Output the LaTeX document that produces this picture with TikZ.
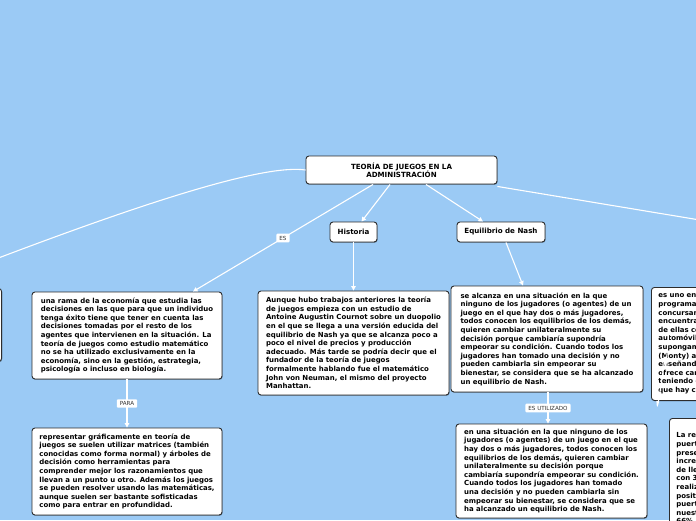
\documentclass[tikz,border=0pt]{standalone}
\usepackage{fontspec}
\setmainfont{DejaVu Sans}
\usetikzlibrary{arrows.meta,shadows}
\definecolor{bg}{RGB}{155,202,245}
\definecolor{bord}{RGB}{45,45,45}
\tikzset{
  box/.style={draw=bord, line width=0.9pt, fill=white, rounded corners=3pt,
    drop shadow={shadow xshift=0.6pt,shadow yshift=-0.9pt,opacity=0.3,fill=black}},
  txt/.style={box, align=left, font=\fontsize{6.95}{8.6}\selectfont\bfseries, inner xsep=6pt, inner ysep=0pt},
  head/.style={box, align=center, font=\fontsize{7.1}{8.4}\selectfont\bfseries, inner sep=2pt},
  lbl/.style={fill=white, rounded corners=1pt, font=\fontsize{5.6}{6.5}\selectfont, inner xsep=3pt, inner ysep=2.2pt, text=black!80},
  conn/.style={draw=white, line width=1.1pt},
  arr/.style={conn, -{Triangle[length=4.5pt,width=4.5pt]}},
}
\begin{document}
\begin{tikzpicture}[x=1pt,y=-1pt]
\useasboundingbox (0,0) rectangle (696,520);
\fill[bg] (0,0) rectangle (696,520);
\begin{scope}
\clip (0,0) rectangle (696,520);

% off-screen targets
\coordinate (offleft) at (-20,265);
\coordinate (offright) at (730,225);

% nodes
\node[head, minimum width=191pt, minimum height=28pt] (title) at (401.5,170) {TEORÍA DE JUEGOS EN LA\\ADMINISTRACIÓN};
\node[head, minimum width=47pt, minimum height=20pt] (historia) at (353.5,232) {Historia};
\node[head, minimum width=88pt, minimum height=20pt] (nash) at (501,232) {Equilibrio de Nash};

\node[txt, minimum width=190pt, minimum height=87pt] (rama) at (127,335.5) {una rama de la economía que estudia las\\
decisiones en las que para que un individuo\\
tenga éxito tiene que tener en cuenta las\\
decisiones tomadas por el resto de los\\
agentes que intervienen en la situación. La\\
teoría de juegos como estudio matemático\\
no se ha utilizado exclusivamente en la\\
economía, sino en la gestión, estrategia,\\
psicología o incluso en biología.};

\node[txt, minimum width=191pt, minimum height=104pt] (histtext) at (353.5,343) {Aunque hubo trabajos anteriores la teoría\\
de juegos empieza con un estudio de\\
Antoine Augustin Cournot sobre un duopolio\\
en el que se llega a una versión educida del\\
equilibrio de Nash ya que se alcanza poco a\\
poco el nivel de precios y producción\\
adecuado. Más tarde se podría decir que el\\
fundador de la teoría de juegos\\
formalmente hablando fue el matemático\\
John von Neuman, el mismo del proyecto\\
Manhattan.};

\node[txt, minimum width=192pt, minimum height=106pt] (nashtext) at (547,339) {se alcanza en una situación en la que\\
ninguno de los jugadores (o agentes) de un\\
juego en el que hay dos o más jugadores,\\
todos conocen los equilibrios de los demás,\\
quieren cambiar unilateralmente su\\
decisión porque cambiaría supondría\\
empeorar su condición. Cuando todos los\\
jugadores han tomado una decisión y no\\
pueden cambiarla sin empeorar su\\
bienestar, se considera que se ha alcanzado\\
un equilibrio de Nash.};

\node[txt, minimum width=190pt, minimum height=87pt] (repr) at (127,471.5) {representar gráficamente en teoría de\\
juegos se suelen utilizar matrices (también\\
conocidas como forma normal) y árboles de\\
decisión como herramientas para\\
comprender mejor los razonamientos que\\
llevan a un punto u otro. Además los juegos\\
se pueden resolver usando las matemáticas,\\
aunque suelen ser bastante sofisticadas\\
como para entrar en profundidad.};

\node[txt, minimum width=191pt, minimum height=94pt] (nashdos) at (551.5,471) {en una situación en la que ninguno de los\\
jugadores (o agentes) de un juego en el que\\
hay dos o más jugadores, todos conocen los\\
equilibrios de los demás, quieren cambiar\\
unilateralmente su decisión porque\\
cambiaría supondría empeorar su condición.\\
Cuando todos los jugadores han tomado\\
una decisión y no pueden cambiarla sin\\
empeorar su bienestar, se considera que se\\
ha alcanzado un equilibrio de Nash.};

\node[txt, anchor=north west, minimum width=190pt, minimum height=113pt, text width=176pt, inner xsep=7pt, inner ysep=6pt] (monty) at (651,287) {es uno en un concurso\\
programa de televisión\\
concursante\\
encuentra tres puertas\\
de ellas con un\\
automóvil detrás\\
supongamos que\\
(Monty) abre otra\\
enseñando una cabra\\
ofrece cambiar\\
teniendo en cuenta\\
que hay cabra detrás};

\node[txt, anchor=north west, minimum width=190pt, minimum height=130pt, text width=176pt, inner xsep=7pt, inner ysep=6pt] (resp) at (669,418) {La respuesta\\
puerta\\
presentador\\
incrementa\\
de llevarse\\
con 3\\
realizar\\
positivo\\
puerta\\
nuestra\\
66\%\\
y no};

\node[box, anchor=north east, minimum width=60pt, minimum height=73pt] (leftbox) at (2,288) {};

% connectors
\draw[conn] (title.west) .. controls (265,164) and (150,200) .. (offleft);
\draw[conn] ([yshift=-2pt]title.south east) -- (offright);
\draw[arr] ([xshift=-28.5pt]title.south) -- node[lbl, pos=0.5] (es) {ES} ([xshift=66pt]rama.north);
\draw[arr] ([xshift=-11.5pt]title.south) -- ([xshift=8pt]historia.north);
\draw[arr] ([xshift=24.5pt]title.south) -- ([xshift=-18pt]nash.north);
\draw[arr] (historia.south) -- (histtext.north);
\draw[arr] ([xshift=5pt]nash.south) -- ([xshift=-24pt]nashtext.north);
\draw[arr] (rama.south) -- node[lbl, pos=0.5] (para) {PARA} (repr.north);
\draw[arr] ([xshift=1pt]nashtext.south) -- node[lbl, pos=0.5] (esutil) {ES UTILIZADO} ([xshift=-3.5pt]nashdos.north);
\draw[conn] ([xshift=6pt]monty.south west) .. controls +(0,25) and +(0,-30) .. ([xshift=-3pt,yshift=52pt]resp.north west) -- ([yshift=88pt]resp.north west);
\draw[white, opacity=0.6, line width=0.6pt] ([yshift=8pt]histtext.south) circle (3pt);
\end{scope}
\end{tikzpicture}
\end{document}
